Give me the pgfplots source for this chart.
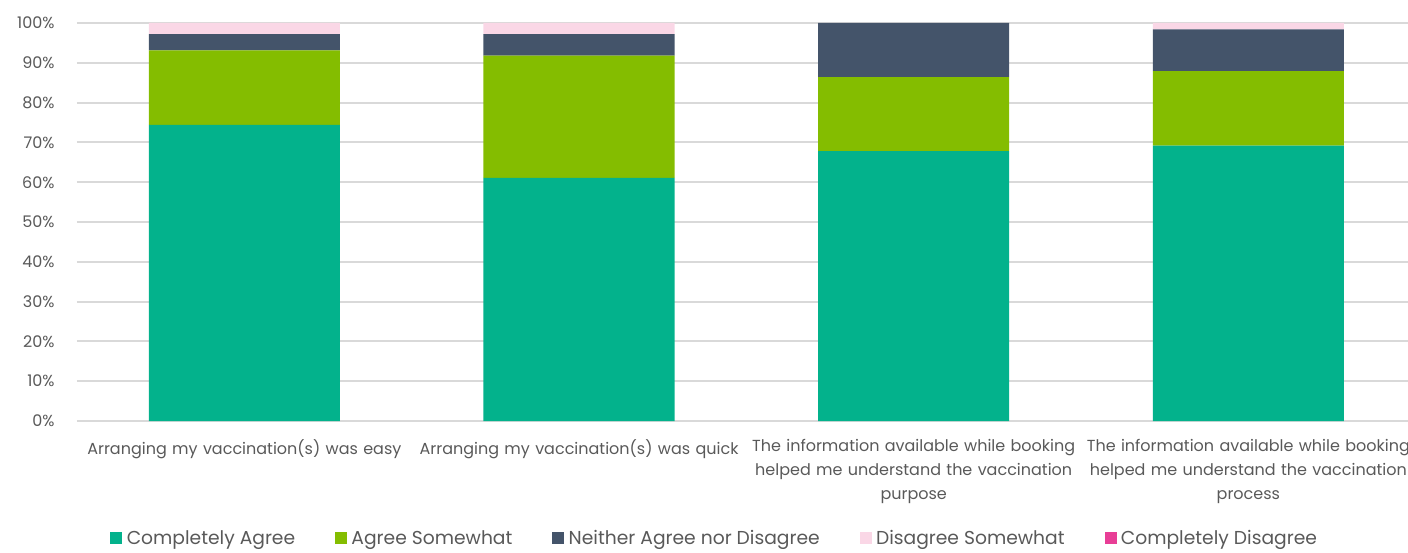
\documentclass[border=0pt]{standalone}
\usepackage{fontspec}
\setmainfont{Poppins}
\usepackage{pgfplots}
\pgfplotsset{compat=1.18}

\definecolor{cagree}{HTML}{03B28C}
\definecolor{asome}{HTML}{84BD00}
\definecolor{neither}{HTML}{44546A}
\definecolor{dsome}{HTML}{FAD7E6}
\definecolor{cdis}{HTML}{E83E96}
\definecolor{gridgray}{HTML}{D9D9D9}
\definecolor{txt}{HTML}{595959}

\begin{document}
\begin{tikzpicture}
\useasboundingbox (-38.5pt,-65.5pt) rectangle (665.5pt,210.5pt);
\begin{axis}[
  at={(0pt,0pt)}, anchor=south west,
  scale only axis,
  width=665.5pt, height=199pt,
  ybar stacked,
  bar width=0.571,
  xmin=-0.5, xmax=3.477,
  ymin=0, ymax=100,
  ytick={0,10,...,100},
  yticklabel={\pgfmathprintnumber{\tick}\%},
  /pgf/number format/assume math mode=true,
  xtick={0,1,2,3},
  xticklabels={
    {Arranging my vaccination(s) was easy},
    {Arranging my vaccination(s) was quick},
    {The information available while booking\\helped me understand the vaccination\\purpose},
    {The information available while booking\\helped me understand the vaccination\\process}},
  xticklabel style={text width=190pt, align=center, anchor=north, inner sep=0pt,
    yshift=-9pt, font=\fontsize{8}{12}\selectfont, text=txt},
  yticklabel style={anchor=east, inner sep=0pt, xshift=-11pt,
    font=\fontsize{8}{10}\selectfont, text=txt},
  major tick length=0pt,
  axis line style={draw=none},
  ymajorgrids,
  grid style={gridgray, line width=1pt},
  legend style={at={(0.4800,-0.296)}, anchor=center, draw=none, fill=none,
    legend columns=5, font=\fontsize{9.35}{10}\selectfont, text=txt,
    nodes={inner sep=2.2pt},
    /tikz/every even column/.append style={column sep=17.75pt},
    /tikz/every odd column/.append style={column sep=0pt}},
  legend image code/.code={\fill[#1,draw=none] (0pt,-2.5pt) rectangle (6pt,3.5pt);},
  legend cell align=left,
  every axis plot/.append style={draw=none},
]
\addplot[fill=cagree] coordinates {(0,74.4) (1,61.1) (2,67.8) (3,69.2)};
\addplot[fill=asome] coordinates {(0,18.7) (1,30.7) (2,18.6) (3,18.7)};
\addplot[fill=neither] coordinates {(0,4.1) (1,5.4) (2,13.6) (3,10.5)};
\addplot[fill=dsome] coordinates {(0,2.8) (1,2.8) (2,0) (3,1.6)};
\addplot[fill=cdis] coordinates {(0,0) (1,0) (2,0) (3,0)};
\legend{Completely Agree, Agree Somewhat, Neither Agree nor Disagree, Disagree Somewhat, Completely Disagree}
\end{axis}
\end{tikzpicture}
\end{document}
